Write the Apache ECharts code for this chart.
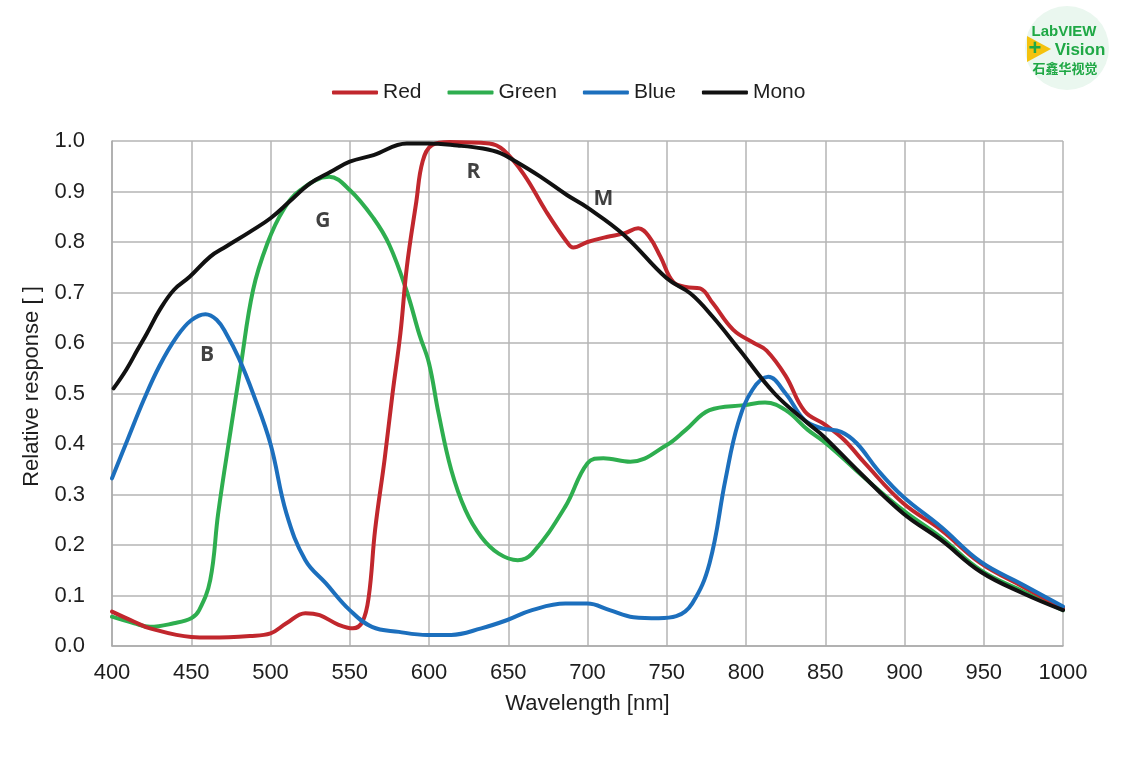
<!DOCTYPE html>
<html>
<head>
<meta charset="utf-8">
<script src="https://cdn.jsdelivr.net/npm/echarts@6/dist/echarts.min.js"></script>
<style>
  html, body { margin: 0; padding: 0; background: #fff; }
  #chart { width: 1121px; height: 770px; }
</style>
</head>
<body>
<div id="chart"></div>
<script>
// values (wavelength in nm, relative response)
const redNm  = [400, 414, 424, 450, 462, 487, 500, 510, 522, 531, 543, 552, 558, 562, 566, 572, 577, 582, 586, 592, 596, 602, 613, 638, 647, 660, 674, 687, 691, 700, 712, 723, 732, 739, 746, 754, 762, 771, 779, 792, 805, 813, 825, 837, 850, 862, 875, 899, 923, 948, 975, 1000]
const redVal = [0.068, 0.048, 0.035, 0.018, 0.017, 0.02, 0.025, 0.045, 0.065, 0.061, 0.042, 0.035, 0.048, 0.098, 0.23, 0.37, 0.50, 0.62, 0.75, 0.88, 0.96, 0.992, 0.998, 0.995, 0.982, 0.933, 0.86, 0.80, 0.789, 0.80, 0.81, 0.817, 0.827, 0.81, 0.771, 0.721, 0.711, 0.708, 0.679, 0.626, 0.60, 0.585, 0.535, 0.465, 0.438, 0.408, 0.362, 0.283, 0.23, 0.164, 0.117, 0.075]

const greenNm  = [400, 414, 424, 439, 450, 455, 462, 467, 475, 481, 489, 498, 508, 519, 537, 550, 565, 575, 586, 594, 600, 606, 614, 623, 633, 644, 656, 665, 686, 700, 710, 727, 750, 762, 777, 799, 812, 825, 839, 849, 860, 874, 899, 923, 948, 975, 1000]
const greenVal = [0.058, 0.045, 0.038, 0.045, 0.055, 0.071, 0.131, 0.263, 0.43, 0.55, 0.705, 0.797, 0.863, 0.903, 0.929, 0.903, 0.847, 0.794, 0.702, 0.616, 0.56, 0.461, 0.349, 0.269, 0.216, 0.183, 0.17, 0.183, 0.276, 0.362, 0.372, 0.365, 0.398, 0.428, 0.467, 0.477, 0.482, 0.467, 0.428, 0.405, 0.375, 0.335, 0.269, 0.215, 0.15, 0.108, 0.071]

const blueNm  = [400, 410, 420, 430, 441, 450, 459, 466, 472, 480, 489, 500, 510, 522, 535, 550, 564, 581, 599, 614, 633, 649, 665, 686, 700, 714, 729, 745, 756, 766, 777, 787, 795, 804, 814, 825, 837, 848, 860, 870, 883, 899, 923, 948, 975, 1000]
const blueVal = [0.332, 0.41, 0.487, 0.555, 0.613, 0.645, 0.657, 0.646, 0.619, 0.57, 0.50, 0.40, 0.263, 0.17, 0.124, 0.071, 0.038, 0.028, 0.022, 0.022, 0.035, 0.051, 0.071, 0.084, 0.084, 0.071, 0.057, 0.055, 0.059, 0.084, 0.164, 0.329, 0.441, 0.507, 0.533, 0.50, 0.447, 0.431, 0.424, 0.401, 0.349, 0.296, 0.236, 0.167, 0.121, 0.078]

const monoNm  = [401, 409, 416, 422, 430, 439, 449, 462, 472, 487, 500, 512, 525, 538, 550, 565, 586, 599, 618, 634, 645, 655, 670, 687, 700, 723, 750, 765, 779, 796, 818, 839, 849, 870, 899, 923, 948, 975, 1000]
const monoVal = [0.51, 0.547, 0.586, 0.619, 0.665, 0.705, 0.731, 0.771, 0.791, 0.82, 0.847, 0.88, 0.916, 0.939, 0.959, 0.972, 0.995, 0.995, 0.991, 0.985, 0.976, 0.959, 0.93, 0.893, 0.868, 0.814, 0.728, 0.698, 0.652, 0.586, 0.50, 0.441, 0.415, 0.349, 0.263, 0.21, 0.147, 0.104, 0.071]

// curve tags placed in data space
const tagNames = ['B', 'G', 'R', 'M']
const tagNm    = [460, 533, 628, 710]
const tagVal   = [0.576, 0.842, 0.939, 0.885]

const font = 'Liberation Sans, Arial'

function pairs(xs, ys) {
  return xs.map((x, i) => [x, ys[i]])
}

let chart = echarts.init(document.getElementById('chart'))

function curve(name, color, xs, ys) {
  return {
    name: name,
    type: 'line',
    smooth: 0.4,
    showSymbol: false,
    symbol: 'none',
    data: pairs(xs, ys),
    lineStyle: { color: color, width: 4, cap: 'round', join: 'round' },
    itemStyle: { color: color },
    emphasis: { disabled: true }
  }
}

let option = {
  backgroundColor: '#fff',
  animation: false,
  legend: {
    data: ['Red', 'Green', 'Blue', 'Mono'],
    top: 77,
    left: 327,
    icon: 'roundRect',
    itemWidth: 46,
    itemHeight: 4,
    itemGap: 26,
    textStyle: { fontFamily: font, fontSize: 21, color: '#1e1e1e' }
  },
  grid: { left: 112, right: 58, top: 141, bottom: 124 },
  xAxis: {
    type: 'value',
    min: 400,
    max: 1000,
    interval: 50,
    name: 'Wavelength [nm]',
    nameLocation: 'middle',
    nameGap: 47,
    nameTextStyle: { fontFamily: font, fontSize: 22, color: '#1e1e1e' },
    axisLine: { lineStyle: { color: '#aaa', width: 1.5 } },
    axisTick: { show: false },
    axisLabel: { fontFamily: font, fontSize: 22, color: '#1e1e1e', margin: 16, formatter: v => String(v) },
    splitLine: { lineStyle: { color: '#b4b4b4', width: 1.5 } }
  },
  yAxis: {
    type: 'value',
    min: 0,
    max: 1,
    interval: 0.1,
    name: 'Relative response [ ]',
    nameLocation: 'middle',
    nameGap: 69,
    nameTextStyle: { fontFamily: font, fontSize: 22, color: '#1e1e1e', padding: [0, 0, 0, 14] },
    axisLine: { show: true, lineStyle: { color: '#aaa', width: 1.5 } },
    axisTick: { show: false },
    axisLabel: {
      fontFamily: font, fontSize: 22, color: '#1e1e1e', margin: 27,
      formatter: v => v.toFixed(1)
    },
    splitLine: { lineStyle: { color: '#b4b4b4', width: 1.5 } }
  },
  series: [
    curve('Green', '#2eae4f', greenNm, greenVal),
    curve('Red', '#c1272d', redNm, redVal),
    curve('Blue', '#1c6fbd', blueNm, blueVal),
    curve('Mono', '#111111', monoNm, monoVal),
    {
      name: 'tags',
      type: 'scatter',
      symbolSize: 0,
      silent: true,
      data: tagNames.map((t, i) => ({ name: t, value: [tagNm[i], tagVal[i]] })),
      label: {
        show: true,
        position: 'inside',
        formatter: '{b}',
        fontFamily: 'Open Sans, Lato',
        fontWeight: 'bold',
        fontSize: 21,
        color: '#111'
      }
    }
  ],
  graphic: [
    {
      type: 'group',
      left: 1025,
      top: 6,
      children: [
        { type: 'circle', shape: { cx: 43, cy: 42, r: 42 }, style: { fill: '#eaf7ef' } },
        { type: 'text', style: { text: 'LabVIEW', x: 40, y: 26, align: 'center', verticalAlign: 'middle',
            font: 'bold 15px "Liberation Sans", Arial', fill: '#1fa845' } },
        { type: 'polygon', shape: { points: [[3, 30], [27, 43], [3, 56]] }, style: { fill: '#f4c20d' } },
        { type: 'text', style: { text: '+', x: 11, y: 43, align: 'center', verticalAlign: 'middle',
            font: 'bold 22px "Liberation Sans", Arial', fill: '#1fa845' } },
        { type: 'text', style: { text: 'Vision', x: 56, y: 44, align: 'center', verticalAlign: 'middle',
            font: 'bold 17px "Liberation Sans", Arial', fill: '#1fa845' } },
        { type: 'text', style: { text: '石鑫华视觉', x: 41, y: 62, align: 'center', verticalAlign: 'middle',
            font: 'bold 13px "Noto Sans CJK SC"', fill: '#1fa845' } }
      ]
    }
  ]
}
chart.setOption(option)
</script>
</body>
</html>
